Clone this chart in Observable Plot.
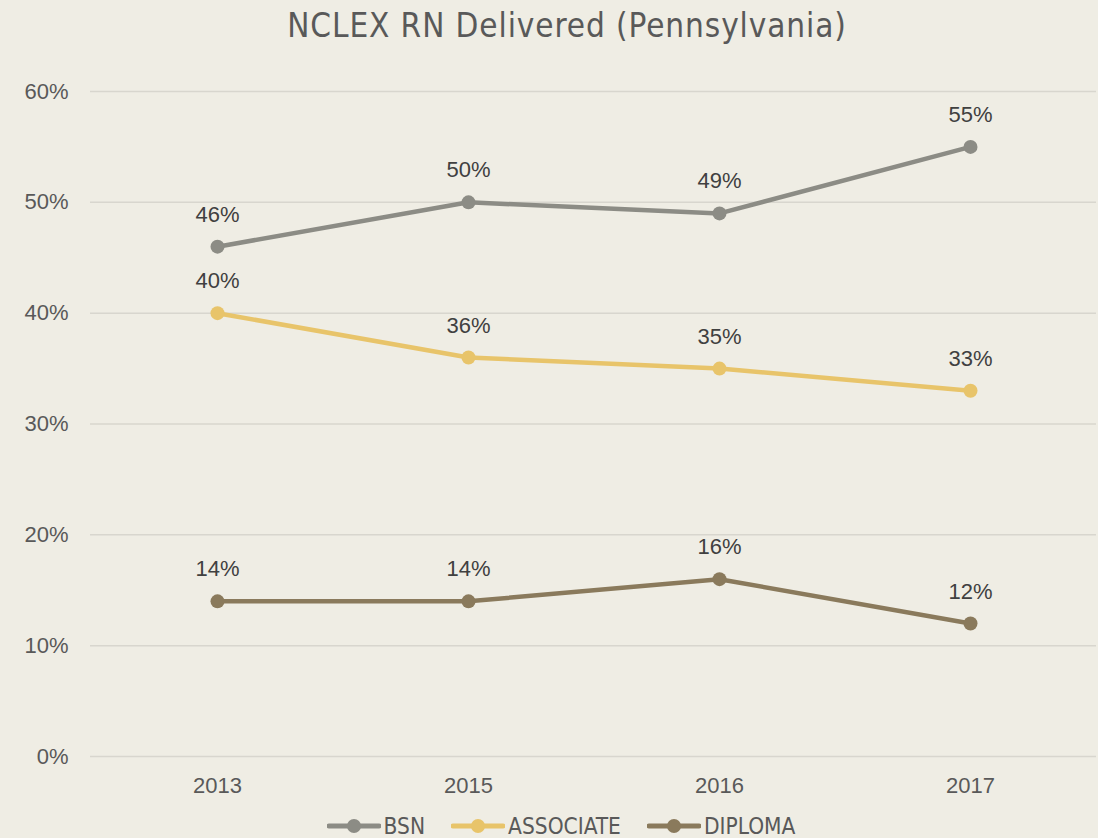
<!DOCTYPE html>
<html>
<head>
<meta charset="utf-8">
<script src="https://cdn.jsdelivr.net/npm/d3@7"></script>
<script src="https://cdn.jsdelivr.net/npm/@observablehq/plot@0.6"></script>
<style>
  html, body { margin: 0; padding: 0; background: #EFEDE4; overflow: hidden; width: 1098px; height: 838px; }
  #title { box-sizing: border-box; height: 60px; padding-top: 6px; padding-left: 36px; text-align: center; letter-spacing: 0.9px;
           font-family: "Liberation Sans Narrow", "DejaVu Sans Condensed", sans-serif; font-size: 33px; color: #595959; }
  #chart svg { display: block; }
  #legend { box-sizing: border-box; height: 38px; padding-left: 24px; display: flex; justify-content: center; align-items: center;
            padding-top: 14px; font-family: "Liberation Sans Narrow", "DejaVu Sans Condensed", sans-serif; font-size: 22.5px; color: #595959; }
  .item { display: flex; align-items: center; margin: 0 13px; }
  .item svg { margin-right: 3px; }
</style>
</head>
<body>
<div id="title">NCLEX RN Delivered (Pennsylvania)</div>
<div id="chart"></div>
<div id="legend"></div>
<script>
const years = ["2013", "2015", "2016", "2017"];
const seriesNames = ["BSN", "ASSOCIATE", "DIPLOMA"];
const bsn = [46, 50, 49, 55];
const associate = [40, 36, 35, 33];
const diploma = [14, 14, 16, 12];
const yTicks = [0, 10, 20, 30, 40, 50, 60];
const colors = ["#8C8C85", "#E8C46A", "#8A7A5C"];

const valuesBySeries = [bsn, associate, diploma];
const data = [];
seriesNames.forEach((s, i) => years.forEach((yr, j) => data.push({series: s, year: yr, value: valuesBySeries[i][j]})));

const plot = Plot.plot({
  width: 1098,
  height: 740,
  marginLeft: 90,
  marginRight: 2,
  marginTop: 31,
  marginBottom: 44,
  style: {background: "transparent", fontFamily: "'Liberation Sans', Arial, sans-serif", fontSize: "22px", color: "#595959"},
  x: {type: "point", domain: years, padding: 0.5, label: null},
  y: {domain: [0, 60], label: null},
  color: {domain: seriesNames, range: colors},
  marks: [
    Plot.gridY(yTicks, {stroke: "#D8D6CE", strokeOpacity: 1, strokeWidth: 1.5}),
    Plot.axisY(yTicks, {tickSize: 0, tickPadding: 22, tickFormat: d => d + "%", fontSize: 22, fill: "#595959", label: null}),
    Plot.axisX({tickSize: 0, tickPadding: 21, fontSize: 22, fill: "#595959", label: null}),
    Plot.lineY(data, {x: "year", y: "value", z: "series", stroke: "series", strokeWidth: 4.5}),
    Plot.dot(data, {x: "year", y: "value", fill: "series", r: 7}),
    Plot.text(data, {x: "year", y: "value", text: d => d.value + "%", dy: -32, fontSize: 22, fill: "#404040"})
  ]
});
document.getElementById("chart").appendChild(plot);

const legend = document.getElementById("legend");
seriesNames.forEach((s, i) => {
  const item = document.createElement("div");
  item.className = "item";
  item.innerHTML = `<svg width="54" height="16"><line x1="2" y1="8" x2="52" y2="8" stroke="${colors[i]}" stroke-width="5" stroke-linecap="round"/><circle cx="27" cy="8" r="7" fill="${colors[i]}"/></svg><span>${s}</span>`;
  legend.appendChild(item);
});
</script>
</body>
</html>
